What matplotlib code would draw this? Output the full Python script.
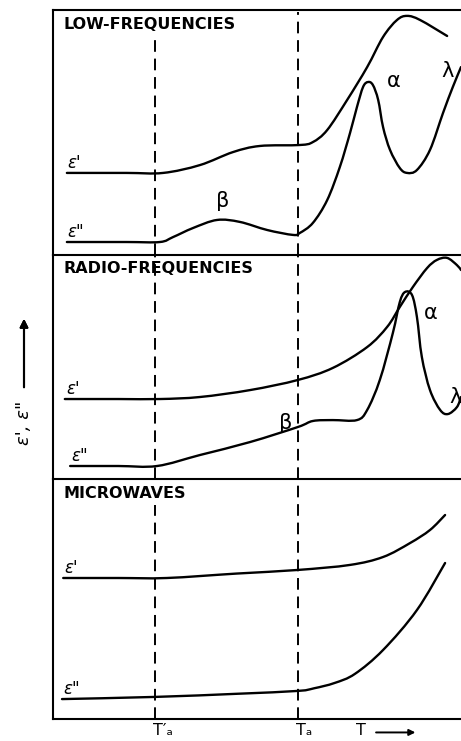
import numpy as np
import matplotlib.pyplot as plt
from matplotlib.path import Path
from matplotlib.patches import PathPatch

# temperature axis in arbitrary units, 0..100 across the frame
T_a_prime = 25
T_a = 60

# low frequencies
lf_t1 = [3.4, 18, 27, 36, 44.1, 50.7, 60.5, 63.7, 67.2, 72.1, 77, 80.9, 84.3, 86.8, 90, 96.6]
lf_e1 = [33.5, 33.5, 33.5, 36.7, 42, 44.5, 44.9, 46.1, 51, 63.3, 76.7, 89, 95.9, 97.6, 95.9, 89.4]
lf_t2 = [3.4, 18, 26.2, 29.4, 34.3, 40.2, 45.8, 52.5, 58.8, 60.5, 63.7, 67.2, 70.3, 72.8,
         74.5, 76, 77.2, 78.4, 79.7, 80.9, 82.6, 85, 86.8, 89.2, 92.4, 95.6, 98, 100]
lf_e2 = [5.3, 5.3, 5.3, 7.3, 11, 14.3, 13.5, 10.2, 8.2, 9, 13.1, 22.4, 35.9, 49.8,
         60.4, 68.6, 70.6, 69.4, 63.3, 52.2, 42.9, 35.5, 33.5, 34.7, 42.9, 58, 68.6, 76.7]

# radio frequencies
rf_t1 = [2.9, 16, 26.2, 36, 48.3, 60, 68.6, 77, 81.9, 85, 88.2, 91.7, 94.1, 96.6, 99, 100]
rf_e1 = [35.7, 35.7, 35.7, 36.6, 39.7, 44.2, 49.6, 58.9, 67.9, 76.8, 85.7, 94.2, 97.8, 98.7, 95.5, 93.3]
rf_t2 = [4.2, 16, 25.5, 36, 48.3, 60, 63.7, 68.6, 74.5, 77, 80.1, 83.3, 85, 86.3,
         88, 89.2, 90.4, 92.4, 94.9, 96.8, 99, 100]
rf_e2 = [5.8, 5.8, 5.8, 10.7, 16.5, 23.2, 25.9, 26.3, 26.3, 30.8, 44.2, 65.2, 79, 83.5,
         82.1, 72.3, 54.5, 39.7, 30.8, 29, 32.1, 36.6]

# microwaves
mw_t1 = [2.5, 16, 27.9, 45, 60, 72.8, 80.9, 87.5, 92.4, 96.1]
mw_e1 = [58.75, 58.75, 58.75, 60.6, 62.1, 64.2, 67.5, 73.3, 78.75, 85]
mw_t2 = [2.2, 25, 45, 60, 64, 69, 74, 80.9, 89.2, 96.1]
mw_e2 = [8.3, 9.2, 10.5, 11.7, 12.8, 15, 18.8, 28.75, 45.4, 65]

W, H = 461, 741
fig = plt.figure(figsize=(W / 100, H / 100), dpi=100)


def frac_box(top, bottom):
    return [53 / W, 1 - bottom / H, (W - 53) / W, (bottom - top) / H]


def smooth_curve(ax, t, e):
    # Catmull-Rom through the points, drawn as cubic Bezier segments
    p = np.column_stack([t, e]).astype(float)
    ext = np.vstack([p[0], p, p[-1]])
    verts = [p[0]]
    codes = [Path.MOVETO]
    for i in range(1, len(ext) - 2):
        c1 = ext[i] + (ext[i + 1] - ext[i - 1]) / 6
        c2 = ext[i + 1] - (ext[i + 2] - ext[i]) / 6
        verts += [c1, c2, ext[i + 1]]
        codes += [Path.CURVE4] * 3
    ax.add_patch(PathPatch(Path(verts, codes), fill=False, lw=1.7,
                           edgecolor='black', capstyle='round', joinstyle='round'))


panels = [
    (frac_box(10, 255), "LOW-FREQUENCIES", lf_t1, lf_e1, lf_t2, lf_e2),
    (frac_box(255, 479), "RADIO-FREQUENCIES", rf_t1, rf_e1, rf_t2, rf_e2),
    (frac_box(479, 719), "MICROWAVES", mw_t1, mw_e1, mw_t2, mw_e2),
]

axes = []
for i, (box, title, t1, e1, t2, e2) in enumerate(panels):
    ax = fig.add_axes(box)
    ax.set_xlim(0, 100)
    ax.set_ylim(0, 100)
    ax.set_xticks([])
    ax.set_yticks([])
    ax.spines['right'].set_visible(False)
    ax.spines['bottom'].set_visible(i == 2)
    for s in ax.spines.values():
        s.set_linewidth(1.5)
    smooth_curve(ax, t1, e1)
    smooth_curve(ax, t2, e2)
    ax.text(2.5, 94, title, fontsize=11.5, fontweight='bold', ha='left', va='center')
    axes.append(ax)

dash = dict(color='black', lw=1.4, linestyle=(0, (6, 3.5)))
axes[0].axvline(T_a_prime, ymin=0, ymax=0.89, **dash)
axes[0].axvline(T_a, ymin=0, ymax=0.99, **dash)
axes[1].axvline(T_a_prime, **dash)
axes[1].axvline(T_a, **dash)
axes[2].axvline(T_a_prime, ymin=0, ymax=0.89, **dash)
axes[2].axvline(T_a, **dash)

# curve labels
greek = dict(fontsize=15, ha='center', va='center')
axes[0].text(83.5, 71, 'α', **greek)
axes[0].text(96.8, 75, 'λ', **greek)
axes[0].text(41.7, 22, 'β', **greek)
axes[1].text(92.6, 74, 'α', **greek)
axes[1].text(98.6, 36.5, 'λ', **greek)
axes[1].text(57, 25, 'β', **greek)

eps = dict(fontsize=12, style='italic', ha='left', va='bottom')
axes[0].text(3.5, 34, "ε'", **eps)
axes[0].text(3.5, 5.8, 'ε"', **eps)
axes[1].text(3.2, 36.2, "ε'", **eps)
axes[1].text(4.4, 6.3, 'ε"', **eps)
axes[2].text(2.8, 59.3, "ε'", **eps)
axes[2].text(2.6, 8.8, 'ε"', **eps)

# temperature marks under the bottom axis
axes[2].text(T_a_prime - 0.5, -1.6, "T′ₐ", fontsize=11.5, ha='left', va='top')
axes[2].text(T_a - 0.5, -1.6, "Tₐ", fontsize=11.5, ha='left', va='top')
axes[2].text(75.5, -1.6, 'T', fontsize=11.5, ha='center', va='top')
axes[2].annotate('', xy=(89.5, -5.6), xytext=(78.5, -5.6), xycoords='data',
                 arrowprops=dict(arrowstyle='-|>', color='black', lw=1.4,
                                 mutation_scale=9), annotation_clip=False)

# y axis label with upward arrow
fig.text(24 / W, 1 - 423 / H, "ε', ε\"", rotation=90, fontsize=13, style='italic',
         ha='center', va='center')
fig.add_artist(plt.annotate('', xy=(24 / W, 1 - 316 / H), xytext=(24 / W, 1 - 390 / H),
                            xycoords='figure fraction',
                            arrowprops=dict(arrowstyle='-|>', color='black', lw=1.5,
                                            mutation_scale=12)))

fig.savefig('out.png', dpi=100)
